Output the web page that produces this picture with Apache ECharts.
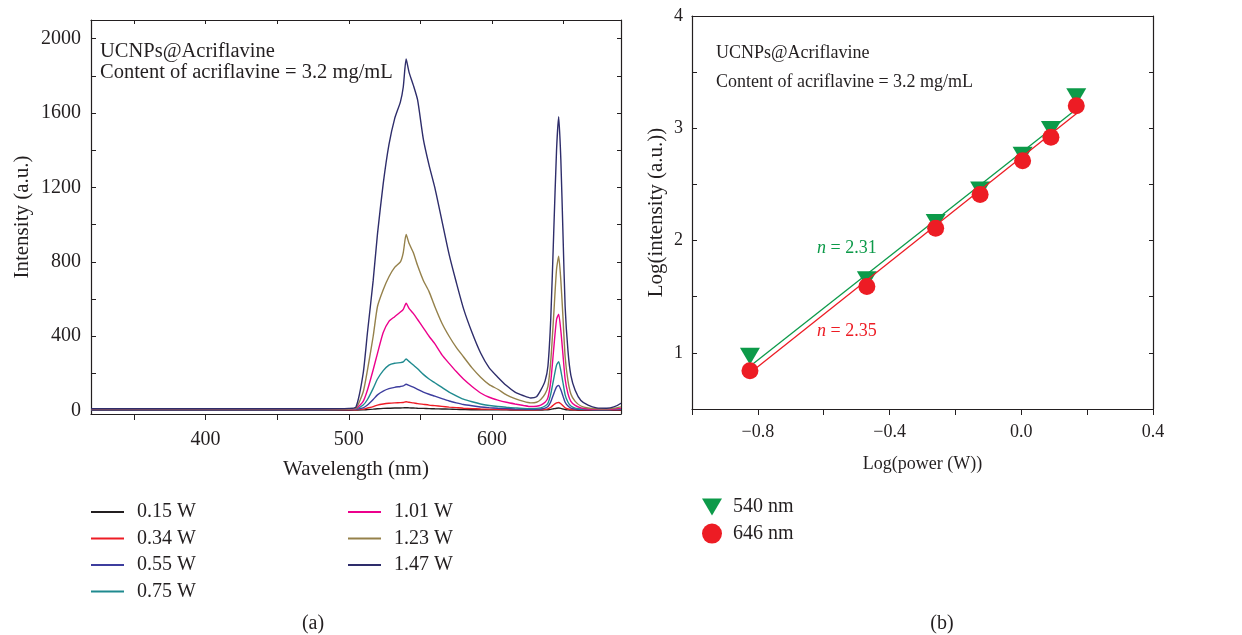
<!DOCTYPE html>
<html>
<head>
<meta charset="utf-8">
<script src="https://cdn.jsdelivr.net/npm/echarts@6/dist/echarts.min.js"></script>
<style>
  html, body { margin: 0; padding: 0; background: #fff; }
  #chart { width: 1242px; height: 635px; }
</style>
</head>
<body>
<div id="chart"></div>
<script>
// ---- data (a): emission spectra ----
const WAVELENGTH = [320, 400, 480, 500, 505, 510, 513, 517, 520, 524, 528, 532, 536, 538, 540, 542, 545, 548, 552, 556,
  560, 565, 570, 575, 580, 586, 592, 598, 604, 610, 616, 622, 627, 631, 634, 637, 639, 641, 643, 645,
  646.5, 648, 649.5, 651, 653, 655, 658, 662, 667, 673, 680, 685, 690];

const P015 = [2, 2, 2, 2, 3, 4, 6, 8, 10, 12, 13, 14, 14, 15, 16, 15, 14, 13, 12, 11, 10, 9, 8, 7, 6, 5, 5, 4, 4, 4,
  3, 3, 3, 3, 3, 4, 5, 7, 10, 13, 14, 12, 9, 6, 4, 3, 3, 2, 2, 2, 2, 2, 3];
const P034 = [4, 4, 4, 4, 5, 8, 14, 22, 30, 36, 40, 42, 43, 44, 48, 45, 42, 38, 34, 30, 27, 23, 19, 16, 13, 11, 9, 8, 7, 6,
  5, 5, 5, 5, 6, 7, 10, 18, 32, 42, 44, 37, 26, 15, 9, 6, 5, 4, 4, 4, 4, 4, 5];
const P055 = [5, 5, 5, 6, 7, 15, 30, 60, 85, 105, 118, 125, 130, 133, 142, 136, 126, 115, 100, 88, 78, 65, 52, 42, 33, 26, 20, 16, 13, 11,
  9, 8, 7, 8, 9, 14, 22, 48, 90, 128, 135, 112, 78, 45, 25, 14, 9, 7, 6, 5, 5, 6, 7];
const P075 = [6, 6, 6, 7, 9, 30, 60, 120, 170, 215, 245, 255, 258, 262, 278, 265, 245, 225, 195, 170, 150, 125, 100, 80, 62, 48, 36, 28, 22, 18,
  15, 12, 11, 12, 15, 25, 40, 90, 170, 245, 263, 215, 150, 85, 45, 25, 14, 9, 7, 6, 6, 7, 9];
const P101 = [7, 7, 7, 8, 11, 50, 111, 220, 308, 420, 480, 505, 530, 545, 577, 550, 523, 490, 445, 400, 360, 300, 254, 210, 170, 130, 95, 72, 57, 45,
  36, 28, 22, 24, 30, 45, 70, 160, 330, 490, 519, 430, 300, 170, 90, 50, 28, 15, 9, 7, 7, 9, 12];
const P123 = [8, 8, 8, 9, 14, 100, 218, 400, 560, 650, 720, 770, 800, 850, 947, 900, 850, 780, 700, 640, 560, 470, 400, 340, 290, 230, 180, 140, 115, 85,
  65, 50, 42, 45, 60, 90, 130, 270, 510, 760, 830, 700, 500, 290, 160, 90, 50, 25, 14, 10, 9, 12, 20];
const P147 = [10, 10, 10, 12, 20, 200, 420, 700, 950, 1220, 1430, 1570, 1660, 1740, 1890, 1820, 1750, 1670, 1460, 1320, 1200, 1020, 840, 690, 550, 420, 310, 230, 180, 135,
  100, 80, 68, 75, 110, 160, 240, 500, 950, 1400, 1580, 1350, 950, 560, 320, 190, 110, 55, 30, 15, 13, 20, 40];

const SPECTRA_NAMES = ['0.15 W', '0.34 W', '0.55 W', '0.75 W', '1.01 W', '1.23 W', '1.47 W'];
const SPECTRA = [P015, P034, P055, P075, P101, P123, P147];
const SPECTRA_COLORS = ['#231f20', '#ee1c25', '#3d3d9e', '#1f8a8f', '#ec008c', '#95814b', '#2e2d6b'];

const A_Y_LABELS = [0, 400, 800, 1200, 1600, 2000];
const A_Y_TICKS = [0, 200, 400, 600, 800, 1000, 1200, 1400, 1600, 1800, 2000];
const A_X_LABELS = [400, 500, 600];
const A_X_TICKS = [350, 400, 450, 500, 550, 600, 650];

// ---- data (b): power dependence ----
const LOG_POWER = [-0.824, -0.469, -0.260, -0.125, 0.004, 0.090, 0.167];
const LOG_I_540 = [0.97, 1.65, 2.16, 2.45, 2.76, 2.99, 3.28];
const LOG_I_646 = [0.84, 1.59, 2.11, 2.41, 2.71, 2.92, 3.20];
const FIT_X = [-0.824, 0.167];
const FIT_540 = [0.88, 3.17];
const FIT_646 = [0.82, 3.13];

const B_X_LABELS = [-0.8, -0.4, 0.0, 0.4];
const B_X_TICKS = [-1.0, -0.8, -0.6, -0.4, -0.2, 0.0, 0.2, 0.4];
const B_Y_LABELS = [1, 2, 3, 4];
const B_Y_TICKS = [0.5, 1, 1.5, 2, 2.5, 3, 3.5, 4];

const FONT = "'Liberation Serif', 'DejaVu Serif', serif";
const INK = '#231f20';
const GREEN = '#0c9a49';
const RED = '#ed1c24';

const zip = (xs, ys) => xs.map((x, i) => [x, ys[i]]);

function mainAxis(extra, nameSize) {
  return Object.assign({
    type: 'value',
    axisLine: { show: true, onZero: false, lineStyle: { color: INK, width: 1.2 } },
    splitLine: { show: false },
    nameTextStyle: { color: INK, fontFamily: FONT, fontSize: nameSize },
  }, extra);
}
function frameAxis(extra, ticks) {
  return Object.assign({
    type: 'value',
    axisLine: { show: true, onZero: false, lineStyle: { color: INK, width: 1.2 } },
    axisTick: { show: ticks.length > 0, inside: true, length: 4, customValues: ticks, lineStyle: { color: INK } },
    axisLabel: { show: false },
    splitLine: { show: false },
  }, extra);
}

const series = SPECTRA.map((vals, i) => ({
  name: SPECTRA_NAMES[i],
  type: 'line',
  xAxisIndex: 0, yAxisIndex: 0,
  data: zip(WAVELENGTH, vals),
  symbol: 'none',
  smooth: 0.2,
  lineStyle: { color: SPECTRA_COLORS[i], width: 1.4 },
  itemStyle: { color: SPECTRA_COLORS[i] },
  silent: true,
}));

series.push(
  {
    name: 'fit540', type: 'line', xAxisIndex: 2, yAxisIndex: 2,
    data: zip(FIT_X, FIT_540), symbol: 'none',
    lineStyle: { color: GREEN, width: 1.3 }, z: 3,
  },
  {
    name: 'fit646', type: 'line', xAxisIndex: 2, yAxisIndex: 2,
    data: zip(FIT_X, FIT_646), symbol: 'none',
    lineStyle: { color: RED, width: 1.3 }, z: 3,
  },
  {
    name: '540 nm', type: 'scatter', xAxisIndex: 2, yAxisIndex: 2,
    data: zip(LOG_POWER, LOG_I_540),
    symbol: 'triangle', symbolRotate: 180, symbolSize: [20, 17],
    itemStyle: { color: GREEN, opacity: 1 }, z: 2,
  },
  {
    name: '646 nm', type: 'scatter', xAxisIndex: 2, yAxisIndex: 2,
    data: zip(LOG_POWER, LOG_I_646),
    symbol: 'circle', symbolSize: 17,
    itemStyle: { color: RED, opacity: 1 }, z: 4,
  }
);

const legendText = { color: INK, fontFamily: FONT, fontSize: 20, lineHeight: 20 };
const lineLegend = (names, left) => ({
  data: names.map(n => ({ name: n, icon: 'rect' })),
  orient: 'vertical', left: left, top: 502, padding: 0,
  itemWidth: 33, itemHeight: 2, itemGap: 6.5,
  textStyle: Object.assign({ padding: [0, 0, 0, 8] }, legendText),
  selectedMode: false,
});

const option = {
  animation: false,
  backgroundColor: '#fff',
  grid: [
    { left: 91, top: 20, width: 530, height: 394 },
    { left: 692, top: 16, width: 461, height: 393 },
  ],
  xAxis: [
    mainAxis({
      gridIndex: 0, min: 320, max: 690,
      name: 'Wavelength (nm)', nameLocation: 'middle', nameGap: 45,
      axisTick: { show: true, length: 6, customValues: A_X_TICKS, lineStyle: { color: INK } },
      axisLabel: { color: INK, fontFamily: FONT, fontSize: 20, margin: 16, customValues: A_X_LABELS },
    }, 21),
    frameAxis({ gridIndex: 0, min: 320, max: 690, position: 'top' }, A_X_TICKS),
    mainAxis({
      gridIndex: 1, min: -1.0, max: 0.4,
      name: 'Log(power (W))', nameLocation: 'middle', nameGap: 46,
      axisTick: { show: true, length: 6, customValues: B_X_TICKS, lineStyle: { color: INK } },
      axisLabel: {
        color: INK, fontFamily: FONT, fontSize: 18, margin: 14, customValues: B_X_LABELS,
        formatter: v => (v < 0 ? '\u2212' : '') + Math.abs(v).toFixed(1),
      },
    }, 18),
    frameAxis({ gridIndex: 1, min: -1.0, max: 0.4, position: 'top' }, []),
  ],
  yAxis: [
    mainAxis({
      gridIndex: 0, min: -18, max: 2100,
      name: 'Intensity (a.u.)', nameLocation: 'middle', nameGap: 58,
      axisTick: { show: true, inside: true, length: 5, customValues: A_Y_TICKS, lineStyle: { color: INK } },
      axisLabel: { color: INK, fontFamily: FONT, fontSize: 20, margin: 10, customValues: A_Y_LABELS, formatter: v => String(v) },
    }, 21),
    frameAxis({ gridIndex: 0, min: -18, max: 2100, position: 'right' }, A_Y_TICKS),
    mainAxis({
      gridIndex: 1, min: 0.5, max: 4,
      name: 'Log(intensity (a.u.))', nameLocation: 'middle', nameGap: 25,
      axisTick: { show: true, inside: true, length: 5, customValues: B_Y_TICKS, lineStyle: { color: INK } },
      axisLabel: { color: INK, fontFamily: FONT, fontSize: 18, margin: 9, customValues: B_Y_LABELS },
    }, 21),
    frameAxis({ gridIndex: 1, min: 0.5, max: 4, position: 'right' }, B_Y_TICKS),
  ],
  legend: [
    lineLegend(SPECTRA_NAMES.slice(0, 4), 91),
    lineLegend(SPECTRA_NAMES.slice(4), 348),
    {
      data: [
        { name: '540 nm', icon: 'path://M0,0 L20,0 L10,17 Z' },
        { name: '646 nm', icon: 'circle' },
      ],
      orient: 'vertical', left: 702, top: 497, padding: 0,
      itemWidth: 20, itemHeight: 20, itemGap: 6.6,
      textStyle: Object.assign({ padding: [0, 0, 0, 6] }, legendText),
      selectedMode: false,
    },
  ],
  graphic: [
    { type: 'text', x: 100, y: 52, style: { text: 'UCNPs@Acriflavine', font: '20.5px ' + FONT, fill: INK, verticalAlign: 'middle' } },
    { type: 'text', x: 100, y: 73, style: { text: 'Content of acriflavine = 3.2 mg/mL', font: '20.5px ' + FONT, fill: INK, verticalAlign: 'middle' } },
    { type: 'text', x: 716, y: 53, style: { text: 'UCNPs@Acriflavine', font: '18px ' + FONT, fill: INK, verticalAlign: 'middle' } },
    { type: 'text', x: 716, y: 82, style: { text: 'Content of acriflavine = 3.2 mg/mL', font: '18px ' + FONT, fill: INK, verticalAlign: 'middle' } },
    {
      type: 'text', x: 817, y: 248,
      style: {
        text: '{i|n} = 2.31', font: '18px ' + FONT, fill: GREEN, verticalAlign: 'middle',
        rich: { i: { fontStyle: 'italic', fontFamily: FONT, fontSize: 18, fill: GREEN } },
      },
    },
    {
      type: 'text', x: 817, y: 331,
      style: {
        text: '{i|n} = 2.35', font: '18px ' + FONT, fill: RED, verticalAlign: 'middle',
        rich: { i: { fontStyle: 'italic', fontFamily: FONT, fontSize: 18, fill: RED } },
      },
    },
    { type: 'text', x: 313, y: 624, style: { text: '(a)', font: '20px ' + FONT, fill: INK, align: 'center', verticalAlign: 'middle' } },
    { type: 'text', x: 942, y: 624, style: { text: '(b)', font: '20px ' + FONT, fill: INK, align: 'center', verticalAlign: 'middle' } },
  ],
  series: series,
};

const chart = echarts.init(document.getElementById('chart'), null, { renderer: 'canvas' });
chart.setOption(option);
</script>
</body>
</html>
